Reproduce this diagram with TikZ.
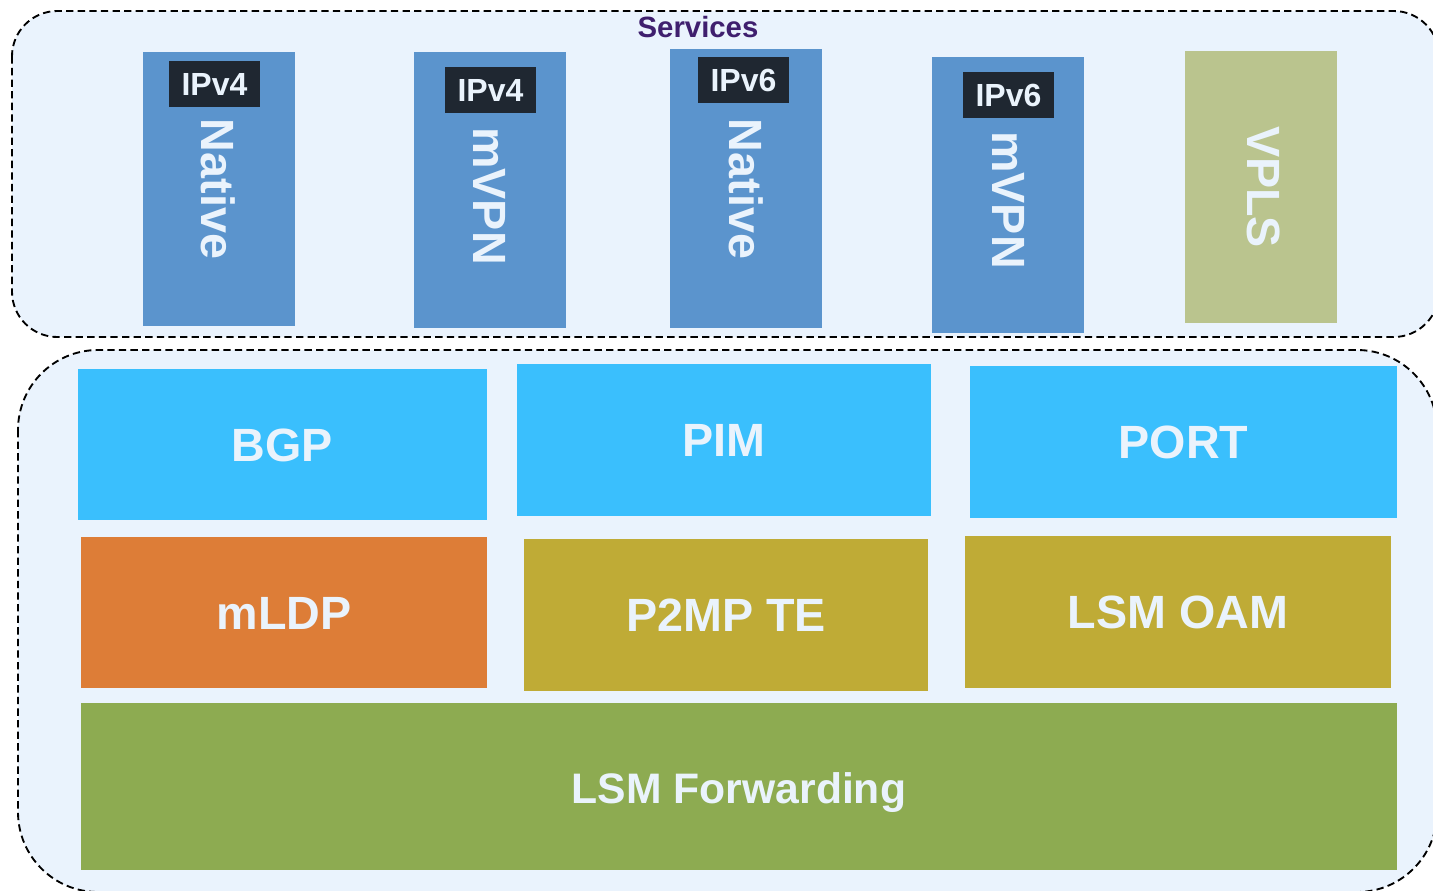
\documentclass[tikz,border=0pt]{standalone}
\usepackage{fontspec}
\setmainfont{Liberation Sans}
\usetikzlibrary{fit}
\definecolor{contfill}{HTML}{EAF3FD}
\definecolor{svcblue}{HTML}{5B94CD}
\definecolor{tagdark}{HTML}{1F2731}
\definecolor{vplsgreen}{HTML}{BAC48E}
\definecolor{skyblue}{HTML}{3ABFFD}
\definecolor{orangebox}{HTML}{DD7D37}
\definecolor{olivebox}{HTML}{BFAB36}
\definecolor{greenbox}{HTML}{8DAB51}
\definecolor{lighttext}{HTML}{EAF3FC}
\definecolor{svcpurple}{HTML}{3F1F6E}
\begin{document}
\begin{tikzpicture}[x=0.75pt,y=-0.75pt,
  cont/.style={draw=black, line width=1.4pt, dash pattern=on 5.5pt off 3.2pt, fill=contfill},
  blk/.style={inner sep=0pt, outer sep=0pt, draw=none},
  big/.style={anchor=base, inner sep=0pt, text=lighttext, font=\bfseries\fontsize{35}{42}\selectfont},
  vert/.style={big, rotate=-90},
  tagtxt/.style={anchor=base, inner sep=0pt, text=lighttext, font=\bfseries\fontsize{24}{28}\selectfont}]
\useasboundingbox (0,0) rectangle (1433,890);
\fill[white] (0,0) rectangle (1433,890);
\begin{scope}
\clip (0,0) rectangle (1433,890);
\draw[cont, rounded corners=34pt] (12,11) rectangle (1439,337);
\draw[cont, rounded corners=60pt] (18,350) rectangle (1437,892);
\end{scope}
% Services
\node[anchor=base, inner sep=0pt, text=svcpurple, font=\bfseries\fontsize{22}{26}\selectfont] (svc) at (698,37.5) {Services};
% service boxes
\node[blk, fill=svcblue, fit={(143,52)(295,326)}] (nat4) {};
\node[blk, fill=svcblue, fit={(414,52)(566,328)}] (mvpn4) {};
\node[blk, fill=svcblue, fit={(670,49)(822,328)}] (nat6) {};
\node[blk, fill=svcblue, fit={(932,57)(1084,333)}] (mvpn6) {};
\node[blk, fill=vplsgreen, fit={(1185,51)(1337,323)}] (vpls) {};
\node[vert] (nat4t) at (201,189) {Native};
\node[vert] (mvpn4t) at (473,196) {mVPN};
\node[vert] (nat6t) at (729,189) {Native};
\node[vert] (mvpn6t) at (992,200) {mVPN};
\node[vert] (vplst) at (1247,187) {VPLS};
% tags
\node[blk, fill=tagdark, fit={(169,61)(260,107)}] (tag1) {};
\node[blk, fill=tagdark, fit={(445,67)(536,113)}] (tag2) {};
\node[blk, fill=tagdark, fit={(698,57)(789,103)}] (tag3) {};
\node[blk, fill=tagdark, fit={(963,72)(1054,118)}] (tag4) {};
\node[tagtxt] (tag1t) at (214.5,95.5) {IPv4};
\node[tagtxt] (tag2t) at (490.5,101.5) {IPv4};
\node[tagtxt] (tag3t) at (743.5,91.5) {IPv6};
\node[tagtxt] (tag4t) at (1008.5,106.5) {IPv6};
% layers
\node[blk, fill=skyblue, fit={(78,369)(487,520)}] (bgp) {};
\node[blk, fill=skyblue, fit={(517,364)(931,516)}] (pim) {};
\node[blk, fill=skyblue, fit={(970,366)(1397,518)}] (port) {};
\node[blk, fill=orangebox, fit={(81,537)(487,688)}] (mldp) {};
\node[blk, fill=olivebox, fit={(524,539)(928,691)}] (p2mp) {};
\node[blk, fill=olivebox, fit={(965,536)(1391,688)}] (oam) {};
\node[blk, fill=greenbox, fit={(81,703)(1397,870)}] (fwd) {};
\node[big] (bgpt) at (282.5,461.2) {BGP};
\node[big] (pimt) at (724,456.7) {PIM};
\node[big] (portt) at (1183.5,458.7) {PORT};
\node[big] (mldpt) at (284,629.2) {mLDP};
\node[big] (p2mpt) at (726,631.2) {P2MP TE};
\node[big] (oamt) at (1178,628.2) {LSM OAM};
\node[big, font=\bfseries\fontsize{32}{38}\selectfont] (fwdt) at (739,803) {LSM Forwarding};
\end{tikzpicture}
\end{document}
